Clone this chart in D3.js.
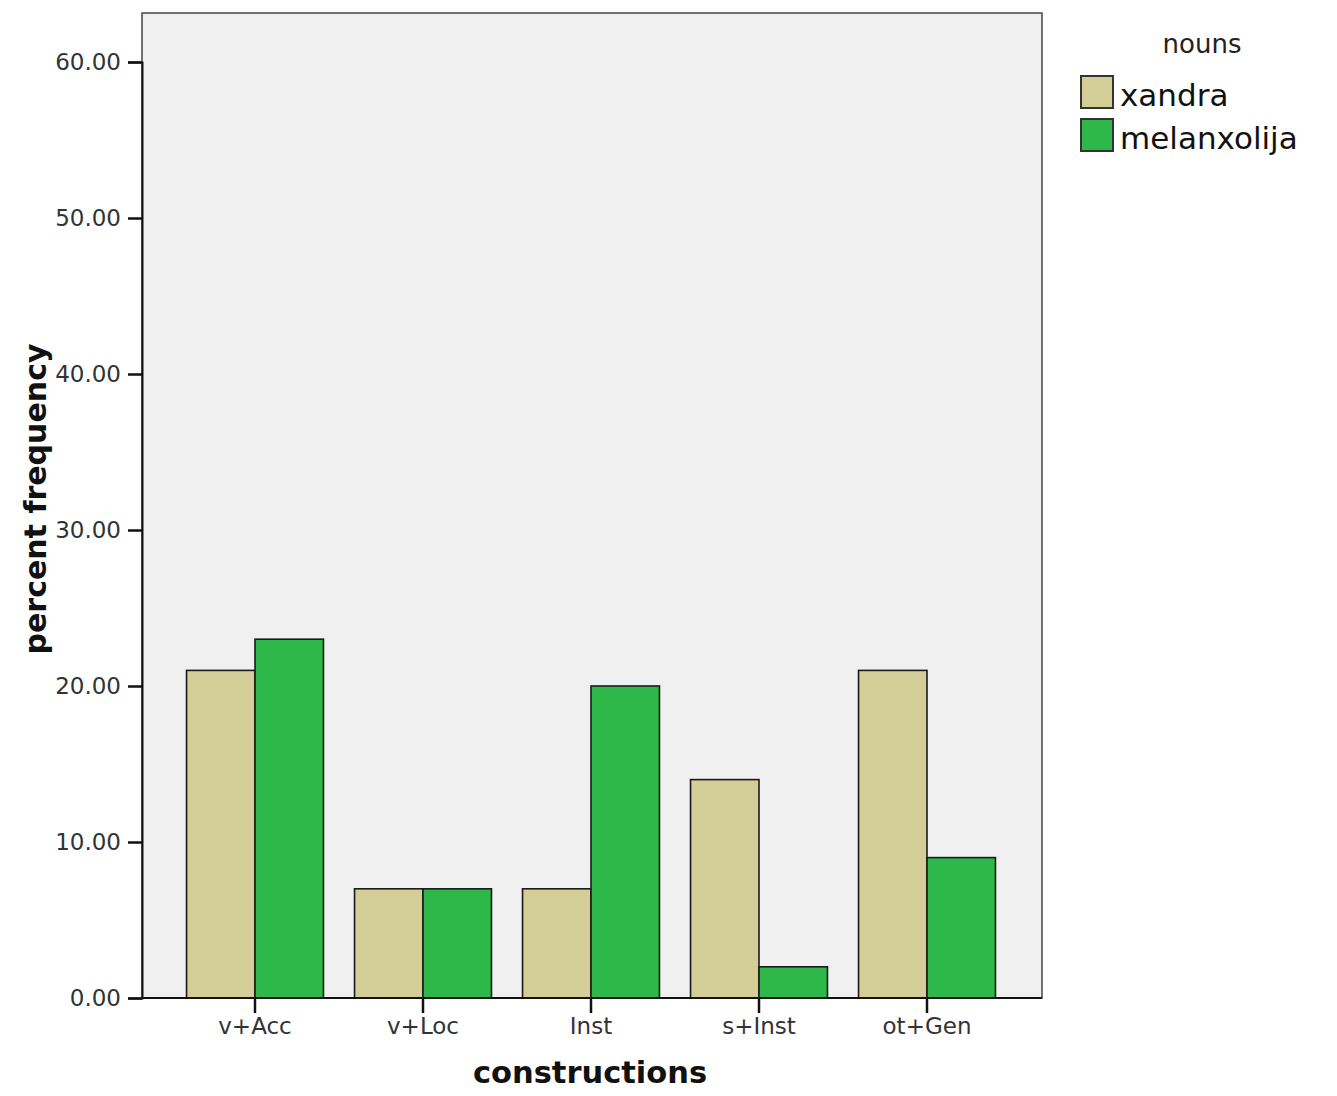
<!DOCTYPE html>
<html><head><meta charset="utf-8">
<script src="https://cdn.jsdelivr.net/npm/d3@7"></script>
<style>body{margin:0;background:#fff}svg{display:block}</style>
</head><body>
<script>
const categories = ["v+Acc","v+Loc","Inst","s+Inst","ot+Gen"];
const seriesNames = ["xandra","melanxolija"];
const xandra = [21,7,7,14,21];
const melanxolija = [23,7,20,2,9];
const yTicks = [0,10,20,30,40,50,60];
const colors = ["#d3ce97","#2eb84a"];

const W=1337,H=1096;
const L=142,R=1042,T=13,B=998;
const svg=d3.select("body").append("svg").attr("width",W).attr("height",H);
const font="DejaVu Sans, Verdana, sans-serif";

const y=d3.scaleLinear().domain([0,60]).range([B,62]);
const x=d3.scaleBand().domain(categories).range([171,1011]).paddingInner(0.185).paddingOuter(0.0925);
const x1=d3.scaleBand().domain(seriesNames).range([0,x.bandwidth()]);

svg.append("rect").attr("x",L).attr("y",T).attr("width",R-L).attr("height",B-T)
  .attr("fill","#f0f0f0").attr("stroke","#444").attr("stroke-width",1.5);

const data=categories.map((c,i)=>({c,vals:[xandra[i],melanxolija[i]]}));
const g=svg.append("g");
data.forEach(d=>{
  d.vals.forEach((v,j)=>{
    g.append("rect").attr("x",x(d.c)+x1(seriesNames[j])).attr("y",y(v))
     .attr("width",x1.bandwidth()).attr("height",y(0)-y(v))
     .attr("fill",colors[j]).attr("stroke","#1a1a1a").attr("stroke-width",1.6);
  });
});

// y axis
const ya=svg.append("g").attr("transform",`translate(${L},0)`)
  .call(d3.axisLeft(y).tickValues(yTicks).tickFormat(d3.format(".2f")).tickSize(14).tickPadding(7));
ya.select(".domain").attr("stroke","#111").attr("stroke-width",2);
ya.selectAll(".tick line").attr("stroke","#111").attr("stroke-width",2.5);
ya.selectAll("text").attr("font-family",font).attr("font-size",23).attr("fill","#333");

// x axis
const xa=svg.append("g").attr("transform",`translate(0,${B})`)
  .call(d3.axisBottom(x).tickSize(15).tickPadding(5).tickSizeOuter(0));
xa.select(".domain").attr("stroke","#111").attr("stroke-width",2).attr("d",`M${L},0H${R}`);
xa.selectAll(".tick line").attr("stroke","#111").attr("stroke-width",2.5);
xa.selectAll("text").attr("font-family",font).attr("font-size",23).attr("fill","#333");

// titles
svg.append("text").attr("x",590).attr("y",1083).attr("text-anchor","middle")
  .attr("font-family",font).attr("font-weight","bold").attr("font-size",30.5).attr("fill","#111")
  .text("constructions");
svg.append("text").attr("transform","translate(46,499) rotate(-90)").attr("text-anchor","middle")
  .attr("font-family",font).attr("font-weight","bold").attr("font-size",30).attr("fill","#111")
  .text("percent frequency");

// legend
svg.append("text").attr("x",1202).attr("y",53).attr("text-anchor","middle")
  .attr("font-family",font).attr("font-size",26).attr("fill","#222").text("nouns");
seriesNames.forEach((s,i)=>{
  const yy=76+i*43;
  svg.append("rect").attr("x",1081).attr("y",yy).attr("width",32).attr("height",32)
    .attr("fill",colors[i]).attr("stroke","#333").attr("stroke-width",2);
  svg.append("text").attr("x",1120).attr("y",yy+30).attr("font-family",font)
    .attr("font-size",31).attr("fill","#111").text(s);
});
</script>
</body></html>
